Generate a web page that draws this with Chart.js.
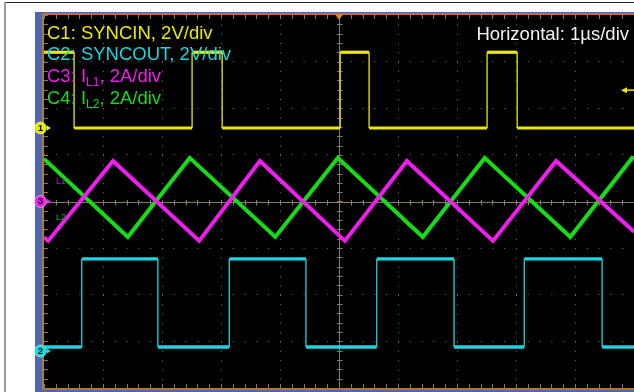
<!DOCTYPE html>
<html>
<head>
<meta charset="utf-8">
<script src="https://cdn.jsdelivr.net/npm/chart.js@4.4.1/dist/chart.umd.min.js"></script>
<style>
  html, body { margin: 0; padding: 0; background: #fff; }
  canvas { display: block; }
</style>
</head>
<body>
<canvas id="scope" width="634" height="392"></canvas>
<script>
// time in microseconds, screen is 10 divisions at 1us/div
// C1 SYNCIN (volts)
const syncinT = [0, 0.51, 0.51, 2.51, 2.51, 3.02, 3.02, 5.02, 5.02, 5.51, 5.51, 7.51, 7.51, 8.02, 8.02, 10];
const syncinV = [3.25, 3.25, 0, 0, 3.25, 3.25, 0, 0, 3.25, 3.25, 0, 0, 3.25, 3.25, 0, 0];

// C2 SYNCOUT (volts)
const syncoutT = [0, 0.64, 0.64, 1.93, 1.93, 3.14, 3.14, 4.44, 4.44, 5.64, 5.64, 6.95, 6.95, 8.14, 8.14, 9.46, 9.46, 10];
const syncoutV = [0.17, 0.17, 3.95, 3.95, 0.17, 0.17, 3.95, 3.95, 0.17, 0.17, 3.95, 3.95, 0.17, 0.17, 3.95, 3.95, 0.17, 0.17];

// C3 IL1 (amps)
const il1T = [0, 0.07, 1.17, 2.63, 3.66, 5.10, 6.15, 7.61, 8.68, 10];
const il1A = [-1.53, -1.69, 1.74, -1.69, 1.74, -1.69, 1.74, -1.69, 1.74, -1.3];

// C4 IL2 (amps)
const il2T = [0, 1.42, 2.47, 3.92, 4.98, 6.42, 7.47, 8.92, 9.97, 10];
const il2A = [1.83, -1.52, 1.87, -1.52, 1.87, -1.52, 1.87, -1.52, 1.87, 1.83];

const FONT = '"Liberation Sans", Arial, sans-serif';
const YELLOW = '#eaea00', CYAN = '#19d6e2', MAGENTA = '#f01cf0', GREEN = '#16dc16';

// offset = ground marker position in divisions from centre, perDiv = units per division
const channels = [
  { name: 'C1', t: syncinT, v: syncinV, perDiv: 2, offset: 1.576, color: YELLOW, marker: '1', w: 3.2 },
  { name: 'C2', t: syncoutT, v: syncoutV, perDiv: 2, offset: -3.206, color: CYAN, marker: '2', w: 3.4 },
  { name: 'C3', t: il1T, v: il1A, perDiv: 2, offset: 0, color: MAGENTA, marker: '3', w: 4 },
  { name: 'C4', t: il2T, v: il2A, perDiv: 2, offset: 0, color: GREEN, marker: null, w: 4 }
];

const datasets = channels.map(ch => ({
  label: ch.name,
  data: ch.t.map((x, i) => ({ x: x, y: ch.offset + ch.v[i] / ch.perDiv })),
  borderColor: ch.color,
  borderWidth: ch.w,
  pointRadius: 0,
  tension: 0,
  segment: {
    borderWidth: c => (c.p0.parsed.x === c.p1.parsed.x ? 1.3 : ch.w)
  }
}));

// scope frame, bezel and background
const bezel = {
  id: 'bezel',
  beforeDraw(chart) {
    const { ctx, chartArea: a, width, height } = chart;
    ctx.save();
    ctx.fillStyle = '#fff';
    ctx.fillRect(0, 0, width, height);
    ctx.fillStyle = '#222';
    ctx.fillRect(4, 2, width - 4, 1);
    ctx.fillStyle = '#999';
    ctx.fillRect(4, 2, 2, height - 2);
    ctx.fillStyle = '#4f66ad';
    ctx.fillRect(35, 12, width - 35, height - 12);
    ctx.fillStyle = '#b5782e';
    ctx.fillRect(42, 13, width - 42, a.bottom - 11);
    ctx.fillStyle = '#000';
    ctx.fillRect(a.left, a.top, a.right - a.left, a.bottom - a.top);
    ctx.restore();
  },
  beforeDatasetsDraw(chart) {
    const { ctx, chartArea: a, scales } = chart;
    const xs = scales.x, ys = scales.y;
    const cx = Math.round(xs.getPixelForValue(5)) + 0.5;
    const cy = Math.round(ys.getPixelForValue(0)) + 0.5;
    ctx.save();
    ctx.strokeStyle = '#857b66';
    ctx.lineWidth = 1;
    ctx.beginPath();
    ctx.moveTo(a.left, cy); ctx.lineTo(a.right, cy);
    ctx.moveTo(cx, a.top); ctx.lineTo(cx, a.bottom);
    for (let t = 0; t <= 10.001; t += 0.2) {
      const px = Math.round(xs.getPixelForValue(t)) + 0.5;
      ctx.moveTo(px, cy - 2.5); ctx.lineTo(px, cy + 3);
      ctx.moveTo(px, a.top); ctx.lineTo(px, a.top + 4);
      ctx.moveTo(px, a.bottom); ctx.lineTo(px, a.bottom - 4);
    }
    for (let d = -4; d <= 4.001; d += 0.2) {
      const py = Math.round(ys.getPixelForValue(d)) + 0.5;
      ctx.moveTo(cx - 2.5, py); ctx.lineTo(cx + 3, py);
      ctx.moveTo(a.left, py); ctx.lineTo(a.left + 4, py);
    }
    ctx.stroke();
    ctx.restore();
  },
  afterDatasetsDraw(chart) {
    const { ctx, chartArea: a, scales } = chart;
    const xs = scales.x, ys = scales.y;
    ctx.save();

    // channel captions
    ctx.textBaseline = 'alphabetic';
    ctx.textAlign = 'left';
    const big = '18.5px ' + FONT, small = '12px ' + FONT;
    const line = (parts, x, y, color) => {
      ctx.fillStyle = color;
      parts.forEach(p => {
        ctx.font = p.sub ? small : big;
        ctx.fillText(p.s, x, y + (p.sub ? 4 : 0));
        x += ctx.measureText(p.s).width;
      });
    };
    line([{ s: 'C1: SYNCIN, 2V/div' }], 47, 39, YELLOW);
    line([{ s: 'C2: SYNCOUT, 2V/div' }], 47, 60, CYAN);
    line([{ s: 'C3: I' }, { s: 'L1', sub: true }, { s: ', 2A/div' }], 47, 82, MAGENTA);
    line([{ s: 'C4: I' }, { s: 'L2', sub: true }, { s: ', 2A/div' }], 47, 104, GREEN);

    ctx.font = '18.5px ' + FONT;
    ctx.textAlign = 'right';
    ctx.fillStyle = '#f2f2f2';
    ctx.fillText('Horizontal: 1\u00b5s/div', 629, 40);

    // trace labels
    ctx.textAlign = 'left';
    ctx.font = '9px ' + FONT;
    ctx.fillStyle = '#b020b0';
    ctx.fillText('L1', 56, 184);
    ctx.fillStyle = '#18b018';
    ctx.fillText('L2', 56, 220);

    // ground markers on the left edge
    channels.forEach(ch => {
      if (!ch.marker) return;
      const y = ys.getPixelForValue(ch.offset);
      ctx.beginPath();
      ctx.arc(40.5, y, 6, 0, Math.PI * 2);
      ctx.fillStyle = ch.color;
      ctx.fill();
      ctx.strokeStyle = 'rgba(255,255,255,0.5)';
      ctx.lineWidth = 1;
      ctx.stroke();
      ctx.fillStyle = '#000';
      ctx.font = 'bold 9px ' + FONT;
      ctx.textAlign = 'center';
      ctx.textBaseline = 'middle';
      ctx.fillText(ch.marker, 40.5, y + 0.5);
      ctx.fillStyle = ch.color;
      ctx.beginPath();
      ctx.moveTo(47, y - 2.5); ctx.lineTo(51, y); ctx.lineTo(47, y + 2.5);
      ctx.closePath();
      ctx.fill();
    });

    // trigger position marker (top) and trigger level arrow (right)
    const tx = xs.getPixelForValue(5);
    ctx.fillStyle = '#e08a20';
    ctx.beginPath();
    ctx.moveTo(tx - 3.5, a.top); ctx.lineTo(tx + 3.5, a.top); ctx.lineTo(tx, a.top + 5);
    ctx.closePath();
    ctx.fill();

    const ty = ys.getPixelForValue(syncinV[0] * 0.5 / 2 + channels[0].offset);
    ctx.fillStyle = YELLOW;
    ctx.strokeStyle = YELLOW;
    ctx.lineWidth = 1.5;
    ctx.beginPath();
    ctx.moveTo(626, ty); ctx.lineTo(634, ty);
    ctx.stroke();
    ctx.beginPath();
    ctx.moveTo(621, ty); ctx.lineTo(627, ty - 3); ctx.lineTo(627, ty + 3);
    ctx.closePath();
    ctx.fill();

    ctx.restore();
  }
};

new Chart(document.getElementById('scope'), {
  type: 'line',
  data: { datasets: datasets },
  options: {
    responsive: false,
    animation: false,
    devicePixelRatio: 1,
    layout: { padding: { left: 44, top: 15, right: 0, bottom: 4 } },
    plugins: { legend: { display: false }, tooltip: { enabled: false } },
    scales: {
      x: {
        type: 'linear', min: 0, max: 10,
        ticks: { display: false, stepSize: 1 },
        grid: { color: '#6e6e6e', lineWidth: 1, drawTicks: false },
        border: { display: false, dash: [1, 8.33] }
      },
      y: {
        type: 'linear', min: -4, max: 4,
        ticks: { display: false, stepSize: 1 },
        grid: { color: '#6e6e6e', lineWidth: 1, drawTicks: false },
        border: { display: false, dash: [1, 10.8] }
      }
    }
  },
  plugins: [bezel]
});
</script>
</body>
</html>
